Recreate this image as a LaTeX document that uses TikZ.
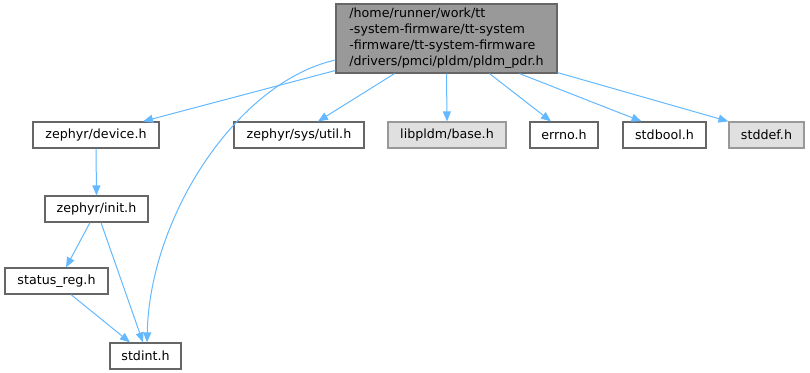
\documentclass[tikz,border=0pt]{standalone}
\usepackage{fontspec}
\setmainfont{DejaVu Sans}
\usetikzlibrary{arrows.meta,calc}
\definecolor{edgeblue}{HTML}{63B8FF}
\definecolor{topfill}{HTML}{999999}
\definecolor{darkborder}{HTML}{666666}
\definecolor{lightfill}{HTML}{E0E0E0}
\definecolor{lightborder}{HTML}{999999}
\tikzset{
  filebox/.style={draw=darkborder, fill=white, line width=0.9pt, rectangle, inner sep=0pt,
    minimum height=26*0.75pt, font=\fontsize{9.5pt}{12pt}\selectfont, text=black},
  extbox/.style={filebox, draw=lightborder, fill=lightfill},
  topbox/.style={filebox, fill=topfill, align=left, minimum height=69*0.75pt},
  dep/.style={draw=edgeblue, line width=0.75pt, -{Triangle[length=7.5pt,width=6pt]}},
}
\begin{document}
\begin{tikzpicture}[x=0.75pt,y=-0.75pt]
\useasboundingbox (0,0) rectangle (810,373);
\node[topbox, minimum width=221*0.75pt] (top) at (446.5,38.5)
  {/home/runner/work/tt\\-system-firmware/tt-system\\-firmware/tt-system-firmware\\/drivers/pmci/pldm/pldm\_pdr.h};
\node[filebox, minimum width=126*0.75pt] (device) at (96,135) {zephyr/device.h};
\node[filebox, minimum width=130*0.75pt] (util) at (299,135) {zephyr/sys/util.h};
\node[extbox, minimum width=118*0.75pt] (base) at (447,135) {libpldm/base.h};
\node[filebox, minimum width=68*0.75pt] (errno) at (564,135) {errno.h};
\node[filebox, minimum width=83*0.75pt] (stdbool) at (664.5,135) {stdbool.h};
\node[extbox, minimum width=75*0.75pt] (stddef) at (766.5,135) {stddef.h};
\node[filebox, minimum width=103*0.75pt] (init) at (96.5,209) {zephyr/init.h};
\node[filebox, minimum width=103*0.75pt] (status) at (56.5,281) {status\_reg.h};
\node[filebox, minimum width=71*0.75pt] (stdint) at (145.5,356) {stdint.h};

\draw[dep] ($(top.west)+(0,32)$) -- ($(device.north)+(47,0)$);
\draw[dep] ($(top.west)+(0,21.5)$) .. controls (238,82) and (150,215) .. ($(stdint.north)+(1.5,0)$);
\draw[dep] ($(top.south)+(-52,0)$) -- ($(util.north)+(19,0)$);
\draw[dep] (top.south) -- (base.north);
\draw[dep] ($(top.south)+(43,0)$) -- ($(errno.north)+(-13,0)$);
\draw[dep] ($(top.south)+(73,0)$) -- ($(stdbool.north)+(-23,0)$);
\draw[dep] ($(top.south east)+(0,-1)$) -- ($(stddef.north west)+(0,0)$);
\draw[dep] (device.south) -- (init.north);
\draw[dep] ($(init.south)+(-6.5,0)$) -- ($(status.north)+(9.5,0)$);
\draw[dep] ($(init.south)+(4.5,0)$) -- ($(stdint.north)+(-2.5,0)$);
\draw[dep] ($(status.south)+(14.5,0)$) -- ($(stdint.north)+(-15.5,0)$);
\end{tikzpicture}
\end{document}
